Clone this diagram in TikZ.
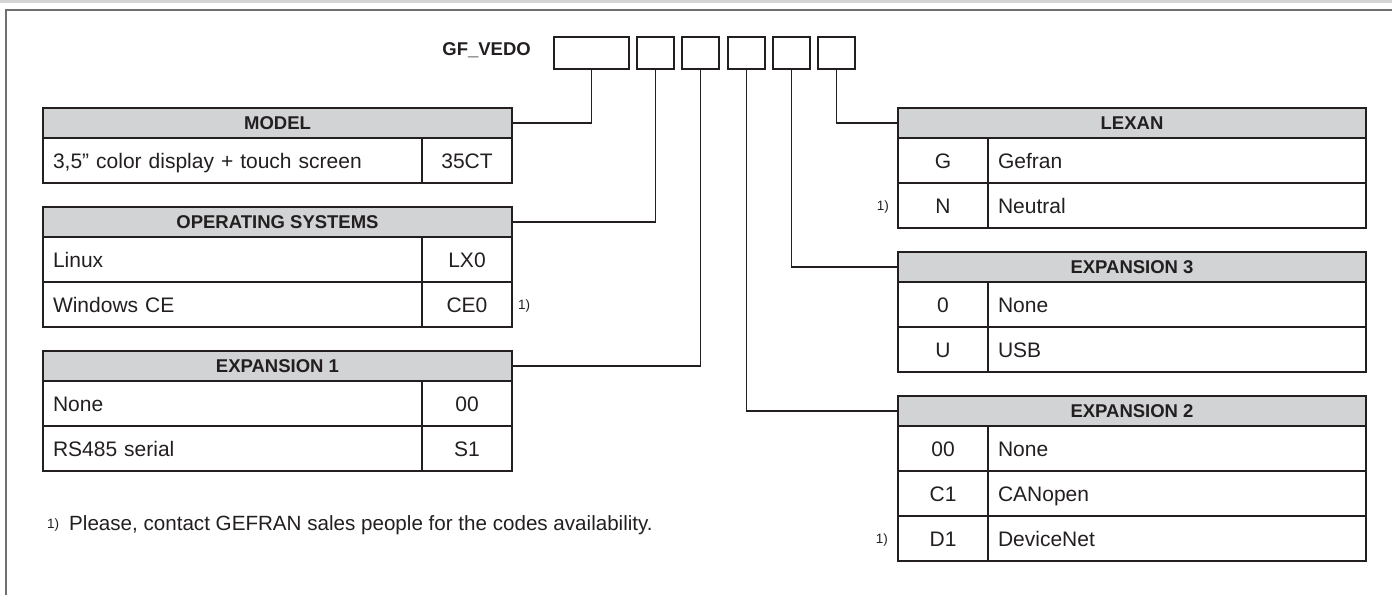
\documentclass[tikz,border=0pt]{standalone}
\usepackage{fontspec}
\setmainfont{Liberation Sans}
\definecolor{lc}{HTML}{231F20}
\definecolor{hdgray}{HTML}{D1D3D4}
\definecolor{framegray}{HTML}{707070}
\definecolor{bandgray}{HTML}{D4D4D4}
\newcommand\bodyfnt{\fontsize{21}{24}\selectfont}
\newcommand\headfnt{\bfseries\fontsize{18.5}{22}\selectfont}
\newcommand\smallfnt{\fontsize{13.5}{16}\selectfont}
\newcommand\footfnt{\fontsize{20.6}{24}\selectfont}
\begin{document}
\begin{tikzpicture}[x=1pt,y=-1pt,
 every node/.style={text=lc},
 hd/.style={draw=lc, fill=hdgray, line width=1.3pt, inner sep=0pt, minimum height=30pt, font=\headfnt, text height=13.3pt, text depth=0pt},
 lhd/.style={hd, minimum width=469pt},
 rhd/.style={hd, minimum width=468pt},
 cell/.style={draw=lc, line width=1.3pt, inner sep=0pt, minimum height=45pt, font=\bodyfnt, text height=15.1pt, text depth=0pt},
 code/.style={cell, minimum width=90pt},
 ldesc/.style={cell, minimum width=379pt, text width=359pt, align=left},
 rdesc/.style={cell, minimum width=378pt, text width=358pt, align=left},
 codebox/.style={draw=lc, line width=1.3pt, inner sep=0pt, minimum height=32pt},
 conn/.style={draw=lc, line width=1.3pt},
 note/.style={inner sep=0pt, font=\smallfnt, text height=9.7pt, text depth=0pt},
]
\useasboundingbox (0,0) rectangle (1392,595);
% frame
\fill[bandgray] (0,0) rectangle (1392,2.5);
\draw[framegray, line width=2pt] (1392,9.5) -- (5.5,9.5) -- (5.5,595);

% title and code boxes
\node[anchor=east, inner sep=0pt, font=\headfnt, text height=13.3pt, text depth=0pt] (title) at (531,49) {GF\_VEDO};
\node[codebox, minimum width=75pt] (b1) at (591.5,53) {};
\node[codebox, minimum width=37pt] (b2) at (655.5,53) {};
\node[codebox, minimum width=37pt] (b3) at (700.5,53) {};
\node[codebox, minimum width=37pt] (b4) at (746.5,53) {};
\node[codebox, minimum width=37pt] (b5) at (791.5,53) {};
\node[codebox, minimum width=37pt] (b6) at (836.5,53) {};

% MODEL
\node[lhd] (mh) at (277.5,123) {MODEL};
\node[ldesc] (m1d) at (232.5,160.5) {3,5” color display + touch screen};
\node[code] (m1c) at (467,160.5) {35CT};

% OPERATING SYSTEMS
\node[lhd] (osh) at (277.5,222) {OPERATING SYSTEMS};
\node[ldesc] (os1d) at (232.5,259.5) {Linux};
\node[code] (os1c) at (467,259.5) {LX0};
\node[ldesc] (os2d) at (232.5,304.5) {Windows CE};
\node[code] (os2c) at (467,304.5) {CE0};
\node[note, anchor=west] (n1) at (518,304.5) {1)};

% EXPANSION 1
\node[lhd] (e1h) at (277.5,366) {EXPANSION 1};
\node[ldesc] (e11d) at (232.5,403.5) {None};
\node[code] (e11c) at (467,403.5) {00};
\node[ldesc] (e12d) at (232.5,448.5) {RS485 serial};
\node[code] (e12c) at (467,448.5) {S1};

% LEXAN
\node[rhd] (lh) at (1132,123) {LEXAN};
\node[code] (l1c) at (943,160.5) {G};
\node[rdesc] (l1d) at (1177,160.5) {Gefran};
\node[code] (l2c) at (943,205.5) {N};
\node[rdesc] (l2d) at (1177,205.5) {Neutral};
\node[note, anchor=east] (n2) at (889,205.5) {1)};

% EXPANSION 3
\node[rhd] (e3h) at (1132,267) {EXPANSION 3};
\node[code] (e31c) at (943,304.5) {0};
\node[rdesc] (e31d) at (1177,304.5) {None};
\node[code] (e32c) at (943,349.5) {U};
\node[rdesc] (e32d) at (1177,349.5) {USB};

% EXPANSION 2
\node[rhd] (e2h) at (1132,411) {EXPANSION 2};
\node[code] (e21c) at (943,448.5) {00};
\node[rdesc] (e21d) at (1177,448.5) {None};
\node[code] (e22c) at (943,493.5) {C1};
\node[rdesc] (e22d) at (1177,493.5) {CANopen};
\node[code] (e23c) at (943,538.5) {D1};
\node[rdesc] (e23d) at (1177,538.5) {DeviceNet};
\node[note, anchor=east] (n3) at (888,538.5) {1)};

% connectors
\draw[conn] (b1.south) |- (mh.east);
\draw[conn] (b2.south) |- (osh.east);
\draw[conn] (b3.south) |- (e1h.east);
\draw[conn] (b4.south) |- (e2h.west);
\draw[conn] (b5.south) |- (e3h.west);
\draw[conn] (b6.south) |- (lh.west);

% footnote
\node[note, anchor=west] (fn1) at (47,523.5) {1)};
\node[anchor=west, inner sep=0pt, font=\footfnt, text height=14.8pt, text depth=0pt] (fn) at (69,523.5) {Please, contact GEFRAN sales people for the codes availability.};
\end{tikzpicture}
\end{document}
